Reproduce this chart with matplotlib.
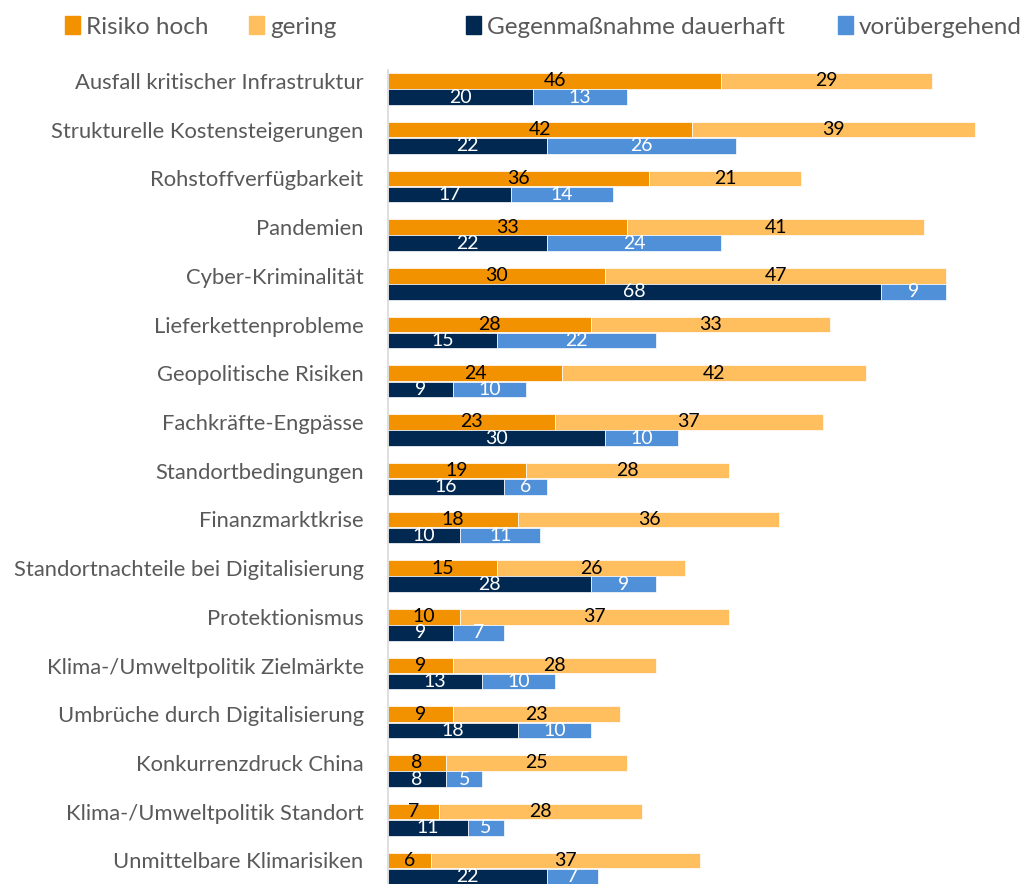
import matplotlib.pyplot as plt
import numpy as np
from matplotlib.patches import Patch

categories = [
    "Ausfall kritischer Infrastruktur",
    "Strukturelle Kostensteigerungen",
    "Rohstoffverfügbarkeit",
    "Pandemien",
    "Cyber-Kriminalität",
    "Lieferkettenprobleme",
    "Geopolitische Risiken",
    "Fachkräfte-Engpässe",
    "Standortbedingungen",
    "Finanzmarktkrise",
    "Standortnachteile bei Digitalisierung",
    "Protektionismus",
    "Klima-/Umweltpolitik Zielmärkte",
    "Umbrüche durch Digitalisierung",
    "Konkurrenzdruck China",
    "Klima-/Umweltpolitik Standort",
    "Unmittelbare Klimarisiken",
]
risk_high = [46, 42, 36, 33, 30, 28, 24, 23, 19, 18, 15, 10, 9, 9, 8, 7, 6]
risk_low = [29, 39, 21, 41, 47, 33, 42, 37, 28, 36, 26, 37, 28, 23, 25, 28, 37]
measure_perm = [20, 22, 17, 22, 68, 15, 9, 30, 16, 10, 28, 9, 13, 18, 8, 11, 22]
measure_temp = [13, 26, 14, 24, 9, 22, 10, 10, 6, 11, 9, 7, 10, 10, 5, 5, 7]

c_high = "#F39200"
c_low = "#FFBF5F"
c_perm = "#002850"
c_temp = "#4F90D9"
text_gray = "#595959"

plt.rcParams['font.family'] = ['Lato', 'DejaVu Sans']

fig = plt.figure(figsize=(10.24, 8.84), dpi=100)
ax = fig.add_axes([388 / 1024, 0, (1010 - 388) / 1024, (884 - 70) / 884])

y = np.arange(len(categories))
off = 0.165
h = 0.32

b1 = ax.barh(y - off, risk_high, height=h, color=c_high, edgecolor='white', linewidth=0.5)
b2 = ax.barh(y - off, risk_low, left=risk_high, height=h, color=c_low, edgecolor='white', linewidth=0.5)
b3 = ax.barh(y + off, measure_perm, height=h, color=c_perm, edgecolor='white', linewidth=0.5)
b4 = ax.barh(y + off, measure_temp, left=measure_perm, height=h, color=c_temp, edgecolor='white', linewidth=0.5)

for bars, col in [(b1, 'black'), (b2, 'black'), (b3, 'white'), (b4, 'white')]:
    ax.bar_label(bars, label_type='center', color=col, fontsize=14)

ax.set_xlim(0, 85.8)
ax.set_ylim(16.32, -0.39)
ax.set_yticks(y - off)
ax.set_yticklabels(categories, fontsize=15.8, color=text_gray)
ax.tick_params(axis='y', length=0, pad=17.5)
ax.set_xticks([])
for s in ['top', 'right', 'bottom']:
    ax.spines[s].set_visible(False)
ax.spines['left'].set_color('#D9D9D9')
ax.spines['left'].set_linewidth(1.2)

leg_kw = dict(loc='center left', ncol=2, frameon=False, fontsize=17.5,
              handlelength=0.6, handleheight=0.7, handletextpad=0.25,
              borderpad=0, borderaxespad=0, labelcolor=text_gray)
leg1 = fig.legend(handles=[Patch(color=c_high, label='Risiko hoch'), Patch(color=c_low, label='gering')],
                  bbox_to_anchor=(65 / 1024, 1 - 27 / 884), columnspacing=1.7, **leg_kw)
leg2 = fig.legend(handles=[Patch(color=c_perm, label='Gegenmaßnahme dauerhaft'), Patch(color=c_temp, label='vorübergehend')],
                  bbox_to_anchor=(466 / 1024, 1 - 27 / 884), columnspacing=2.2, **leg_kw)

fig.savefig('out.png', dpi=100)
